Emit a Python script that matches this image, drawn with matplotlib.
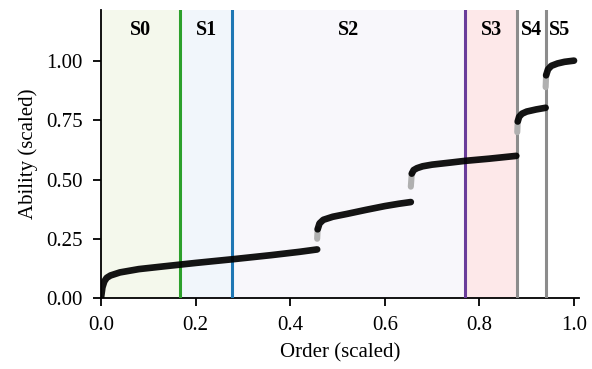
import matplotlib
matplotlib.use('Agg')
import matplotlib.pyplot as plt

plt.rcParams['font.family'] = ['Liberation Serif', 'DejaVu Serif']

# stage borders (order, scaled) and labels
borders = [0.0, 0.168, 0.278, 0.770, 0.880, 0.940, 1.0]
stage_names = ['S0', 'S1', 'S2', 'S3', 'S4', 'S5']
fill_colors = ['#f4f8ec', '#f1f6fb', '#f8f7fb', '#fde8e9', 'none', 'none']
line_colors = ['#2ca02c', '#1f77b4', '#6a3d9a', '#8c8c8c', '#8c8c8c']

# ability curve, one list per segment
seg_x = [
    [0.0, 0.003, 0.007, 0.012, 0.02, 0.04, 0.08, 0.13, 0.2, 0.28, 0.36, 0.42, 0.457],
    [0.458, 0.462, 0.47, 0.49, 0.52, 0.56, 0.6, 0.63, 0.655],
    [0.657, 0.661, 0.668, 0.68, 0.7, 0.74, 0.77, 0.82, 0.878],
    [0.881, 0.884, 0.89, 0.9, 0.92, 0.94],
    [0.941, 0.945, 0.952, 0.965, 0.98, 1.0],
]
seg_y = [
    [0.0, 0.045, 0.07, 0.085, 0.095, 0.108, 0.122, 0.133, 0.148, 0.164, 0.181, 0.195, 0.205],
    [0.29, 0.315, 0.33, 0.343, 0.355, 0.372, 0.388, 0.398, 0.405],
    [0.525, 0.54, 0.548, 0.556, 0.563, 0.572, 0.579, 0.588, 0.6],
    [0.745, 0.765, 0.778, 0.787, 0.796, 0.803],
    [0.94, 0.965, 0.98, 0.99, 0.997, 1.002],
]
# faded lead-in at each jump
fade_x = [[0.457, 0.458], [0.655, 0.657], [0.880, 0.881], [0.940, 0.941]]
fade_y = [[0.25, 0.29], [0.47, 0.525], [0.70, 0.745], [0.89, 0.94]]

fig = plt.figure(figsize=(5.92, 3.69), dpi=100)
ax = fig.add_axes([0.1706, 0.1924, 0.807, 0.780])

for i in range(len(stage_names)):
    if fill_colors[i] != 'none':
        ax.axvspan(borders[i], borders[i + 1], color=fill_colors[i], zorder=0, lw=0)
    ax.text((borders[i] + borders[i + 1]) / 2, 1.13, stage_names[i],
            ha='center', va='center', fontsize=14.5, fontweight='bold')

for i in range(len(line_colors)):
    ax.axvline(borders[i + 1], color=line_colors[i], lw=2.2, zorder=3)

for fx, fy in zip(fade_x, fade_y):
    ax.plot(fx, fy, color='#b0b0b0', lw=4.4, solid_capstyle='round', zorder=4)
for sx, sy in zip(seg_x, seg_y):
    ax.plot(sx, sy, color='black', lw=4.8, alpha=0.92, solid_capstyle='round', zorder=5)

ax.set_xlim(0, 1.01)
ax.set_ylim(0, 1.215)
ax.set_xticks([0.0, 0.2, 0.4, 0.6, 0.8, 1.0])
ax.set_xticklabels(['0.0', '0.2', '0.4', '0.6', '0.8', '1.0'])
ax.set_yticks([0.0, 0.25, 0.5, 0.75, 1.0])
ax.set_yticklabels(['0.00', '0.25', '0.50', '0.75', '1.00'])
ax.tick_params(labelsize=15, length=6, width=1.3, direction='out', pad=7)
ax.spines['top'].set_visible(False)
ax.spines['right'].set_visible(False)
ax.spines['left'].set_linewidth(1.3)
ax.spines['bottom'].set_linewidth(1.3)
ax.set_xlabel('Order (scaled)', fontsize=15, labelpad=6)
ax.set_ylabel('Ability (scaled)', fontsize=15, labelpad=6)

fig.savefig('out.png', dpi=100)
